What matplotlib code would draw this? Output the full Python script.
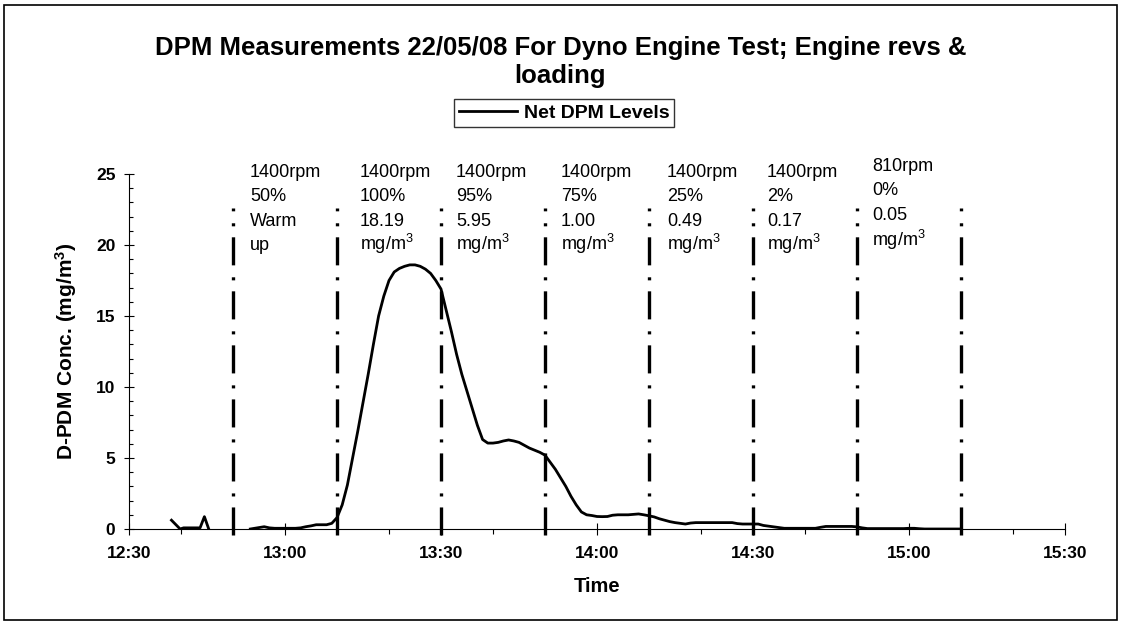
import numpy as np
import matplotlib
matplotlib.use("Agg")
import matplotlib.pyplot as plt
from matplotlib.ticker import MultipleLocator, FuncFormatter
from matplotlib.patches import Rectangle

plt.rcParams['font.family'] = ['Liberation Sans', 'DejaVu Sans']
plt.rcParams['mathtext.fontset'] = 'custom'
plt.rcParams['mathtext.rm'] = 'Liberation Sans'
plt.rcParams['mathtext.bf'] = 'Liberation Sans:bold'
plt.rcParams['mathtext.default'] = 'regular'
plt.rcParams['lines.scale_dashes'] = False

# ---------------- data ----------------
title = "DPM Measurements 22/05/08 For Dyno Engine Test; Engine revs &\nloading"
series_name = "Net DPM Levels"
x_label = "Time"
y_label = "D-PDM Conc. (mg/m$^\\mathbf{3}$)"

times = [
    "12:38:10", "12:39:50", "12:40:30", "12:43:40", "12:44:30", "12:45:20",
    "12:49:00",
    "12:53:20", "12:54", "12:55", "12:56", "12:57", "12:58", "12:59",
    "13:00", "13:01", "13:02", "13:03", "13:04", "13:05", "13:06", "13:07", "13:08", "13:09",
    "13:10", "13:11", "13:12", "13:13", "13:14", "13:15", "13:16", "13:17", "13:18", "13:19",
    "13:20", "13:21", "13:22", "13:23", "13:24", "13:25", "13:26", "13:27", "13:28", "13:29",
    "13:30", "13:31", "13:32", "13:33", "13:34", "13:35", "13:36", "13:37", "13:38", "13:39",
    "13:40", "13:41", "13:42", "13:43", "13:44", "13:45", "13:46", "13:47", "13:48", "13:49",
    "13:50", "13:51", "13:52", "13:53", "13:54", "13:55", "13:56", "13:57", "13:58", "13:59",
    "14:00", "14:01", "14:02", "14:03", "14:04", "14:05", "14:06", "14:07", "14:08", "14:09",
    "14:10", "14:11", "14:12", "14:13", "14:14", "14:15", "14:16", "14:17", "14:18", "14:19",
    "14:20", "14:21", "14:22", "14:23", "14:24", "14:25", "14:26", "14:27", "14:28", "14:29",
    "14:30", "14:31", "14:32", "14:33", "14:34", "14:35", "14:36", "14:37", "14:38", "14:39",
    "14:40", "14:41", "14:42", "14:43", "14:44", "14:45", "14:46", "14:47", "14:48", "14:49",
    "14:50", "14:51", "14:52", "14:53", "14:54", "14:55", "14:56", "14:57", "14:58", "14:59",
    "15:00", "15:01", "15:02", "15:03", "15:04", "15:05", "15:06", "15:07", "15:08", "15:09",
    "15:10",
]
net_dpm = [
    0.62, 0.0, 0.08, 0.08, 0.87, 0.0,
    np.nan,
    0.0, 0.04, 0.10, 0.16, 0.08, 0.05, 0.05,
    0.05, 0.05, 0.05, 0.08, 0.16, 0.22, 0.30, 0.30, 0.30, 0.40,
    0.80, 1.70, 3.10, 5.00, 6.90, 8.90, 10.9, 13.0, 15.0, 16.4,
    17.5, 18.1, 18.35, 18.5, 18.6, 18.6, 18.5, 18.3, 18.0, 17.5,
    16.9, 15.4, 13.9, 12.3, 10.9, 9.7, 8.5, 7.3, 6.3, 6.05,
    6.05, 6.1, 6.2, 6.27, 6.2, 6.1, 5.9, 5.7, 5.55, 5.4,
    5.2, 4.7, 4.2, 3.6, 3.0, 2.3, 1.7, 1.2, 1.0, 0.95,
    0.88, 0.87, 0.88, 0.97, 1.0, 1.0, 1.0, 1.03, 1.06, 1.0,
    0.93, 0.85, 0.72, 0.62, 0.52, 0.45, 0.40, 0.35, 0.42, 0.45,
    0.45, 0.45, 0.45, 0.45, 0.45, 0.45, 0.45, 0.38, 0.35, 0.35,
    0.35, 0.35, 0.25, 0.20, 0.15, 0.10, 0.05, 0.05, 0.05, 0.05,
    0.05, 0.05, 0.05, 0.12, 0.18, 0.18, 0.18, 0.18, 0.18, 0.18,
    0.15, 0.08, 0.03, 0.03, 0.03, 0.03, 0.03, 0.03, 0.03, 0.03,
    0.05, 0.05, 0.02, 0.0, 0.0, 0.0, 0.0, 0.0, 0.0, 0.0,
    0.0,
]

# phase boundaries (vertical dash-dot lines)
phase_marks = ["12:50", "13:10", "13:30", "13:50", "14:10", "14:30", "14:50", "15:10"]

# phase annotations
phase_labels = [
    ["1400rpm", "50%", "Warm", "up"],
    ["1400rpm", "100%", "18.19", "mg/m$^3$"],
    ["1400rpm", "95%", "5.95", "mg/m$^3$"],
    ["1400rpm", "75%", "1.00", "mg/m$^3$"],
    ["1400rpm", "25%", "0.49", "mg/m$^3$"],
    ["1400rpm", "2%", "0.17", "mg/m$^3$"],
    ["810rpm", "0%", "0.05", "mg/m$^3$"],
]

x_range = ["12:30", "15:30"]
y_range = [0, 25]


def to_min(s):
    parts = [int(p) for p in s.split(":")]
    while len(parts) < 3:
        parts.append(0)
    return parts[0] * 60 + parts[1] + parts[2] / 60.0


# ---------------- figure ----------------
W, H, DPI = 1121, 624, 100
fig = plt.figure(figsize=(W / DPI, H / DPI), dpi=DPI)
fig.patch.set_facecolor("white")

ax_l, ax_r, ax_t, ax_b = 129, 1065, 174, 529
ax = fig.add_axes([ax_l / W, 1 - ax_b / H, (ax_r - ax_l) / W, (ax_b - ax_t) / H])

x = np.array([to_min(t) for t in times])
y = np.array(net_dpm, dtype=float)
ax.plot(x, y, color="black", lw=2.0, solid_joinstyle="round", label=series_name, zorder=3)

ypx = (y_range[1] - y_range[0]) / (ax_b - ax_t)  # data units per pixel
line_bottom = -6 * ypx
line_top = (ax_b - 208) * ypx
for m in phase_marks:
    xm = to_min(m)
    ax.plot([xm, xm], [line_bottom, line_top], color="black", lw=2.4,
            dashes=[20.2, 7.9, 2.2, 8.6], dash_capstyle="butt",
            clip_on=False, zorder=4)

# annotations
x_per_px = (to_min(x_range[1]) - to_min(x_range[0])) / (ax_r - ax_l)
offsets_px = [17, 23, 15, 16, 18, 14, 15]
base_norm = [177, 201.5, 226, 250]
base_810 = [171, 195, 220, 246]
for i, lines in enumerate(phase_labels):
    xm = to_min(phase_marks[i]) + offsets_px[i] * x_per_px
    bases = base_810 if lines[0].startswith("810") else base_norm
    for txt, b in zip(lines, bases):
        ax.text(xm, (ax_b - b) * ypx, txt, fontsize=13, ha="left",
                va="baseline", clip_on=False)

ax.set_xlim(to_min(x_range[0]), to_min(x_range[1]))
ax.set_ylim(*y_range)
ax.xaxis.set_major_locator(MultipleLocator(30))
ax.xaxis.set_minor_locator(MultipleLocator(10))
ax.xaxis.set_major_formatter(FuncFormatter(lambda v, p: f"{int(v // 60)}:{int(round(v % 60)):02d}"))
ax.yaxis.set_major_locator(MultipleLocator(5))
ax.yaxis.set_minor_locator(MultipleLocator(1))

for s in ["top", "right"]:
    ax.spines[s].set_visible(False)
for s in ["left", "bottom"]:
    ax.spines[s].set_linewidth(0.8)
    ax.spines[s].set_color("black")

ax.tick_params(axis="x", which="major", direction="inout", length=8, width=0.8, pad=8,
               labelsize=12.5, colors="black")
ax.tick_params(axis="x", which="minor", direction="out", length=3.5, width=0.8)
ax.tick_params(axis="y", which="major", direction="inout", length=7.5, width=0.8, pad=6,
               labelsize=12.5, colors="black")
ax.tick_params(axis="y", which="minor", direction="in", length=3, width=0.8)
for lab in ax.get_xticklabels() + ax.get_yticklabels():
    lab.set_fontweight("bold")

ax.set_xlabel(x_label, fontsize=14.5, fontweight="bold", labelpad=12)
ax.set_ylabel(y_label, fontsize=15, fontweight="bold", labelpad=12)

fig.text(0.5, 1 - 62 / H, title, ha="center", va="center", fontsize=18.5,
         fontweight="bold", linespacing=1.2)

leg = fig.legend(loc="center", bbox_to_anchor=(564 / W, 1 - 113 / H),
                 frameon=True, fancybox=False, shadow=False,
                 prop={"weight": "bold", "size": 14}, handlelength=3.0,
                 borderpad=0.25, handletextpad=0.35, borderaxespad=0)
leg.get_frame().set_edgecolor("black")
leg.get_frame().set_linewidth(1.0)

fig.patches.append(Rectangle((4 / W, 4 / H), 1 - 8 / W, 1 - 9 / H,
                             transform=fig.transFigure, fill=False,
                             edgecolor="black", lw=1.2))

fig.savefig("out.png", dpi=DPI, facecolor="white")
